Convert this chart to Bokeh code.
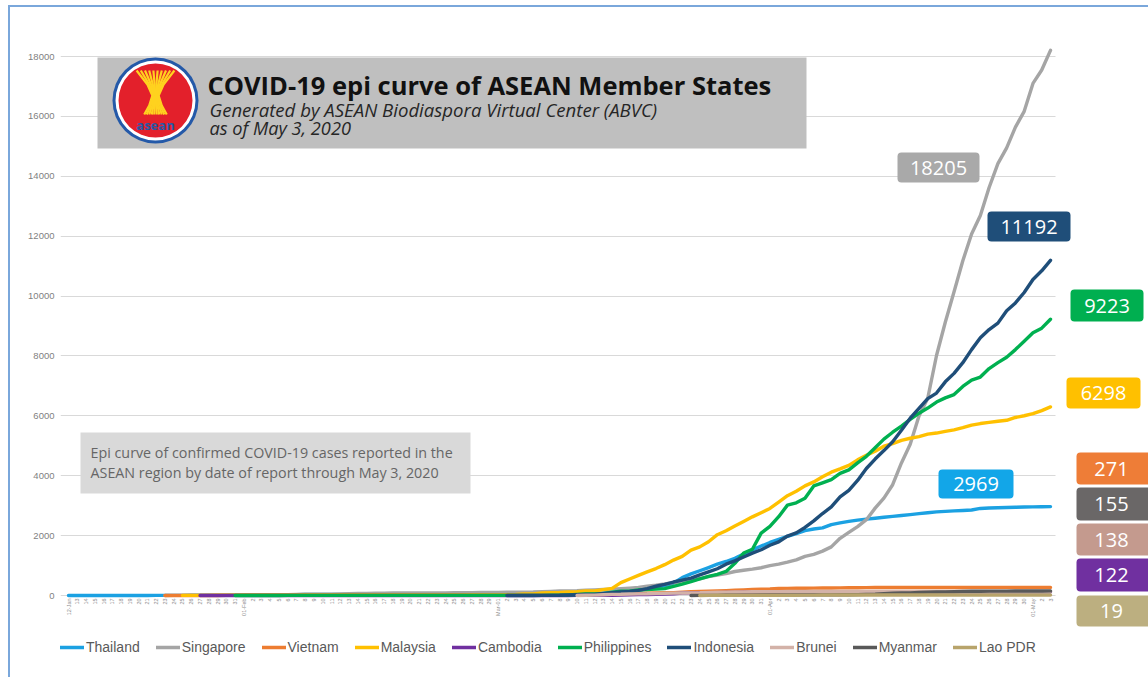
import math
import pandas as pd
from bokeh.plotting import figure
from bokeh.models import Range1d, FixedTicker, Label, BoxAnnotation, Legend, LegendItem
from bokeh.core.properties import value
from bokeh.embed import file_html
from bokeh.resources import INLINE

# ---------------- data ----------------
start_date = "2020-01-12"
end_date = "2020-05-03"
month_tick_labels = {"2020-01-12": "12-Jan", "2020-02-01": "01-Feb", "2020-03-01": "Mar-01",
                     "2020-04-01": "01-Apr", "2020-05-01": "01-May"}
y_ticks = [0, 2000, 4000, 6000, 8000, 10000, 12000, 14000, 16000, 18000]

countries = ["Thailand", "Singapore", "Vietnam", "Malaysia", "Cambodia",
             "Philippines", "Indonesia", "Brunei", "Myanmar", "Lao PDR"]
colors = ["#1BA1E2", "#A5A5A5", "#ED7D31", "#FFC000", "#7030A0",
          "#00B050", "#1F4E79", "#D3B2A8", "#595959", "#B8A46B"]
box_colors = ["#12A6E8", "#A9A9A9", "#EE7D37", "#FFC000", "#7030A0",
              "#00AF50", "#1F4E79", "#C49A8E", "#6A6767", "#BCAF80"]

# cumulative confirmed cases, each series runs from its first report date up to 3 May 2020
thailand = [1, 1, 1, 1, 1, 2, 2, 2, 2, 2, 4, 4, 5, 5, 8, 8, 14, 14, 14, 19,
            19, 19, 19, 25, 25, 25, 25, 32, 32, 32, 33, 33, 33, 33, 34, 34, 35, 35, 35, 35, 35, 35, 35, 37, 37, 40, 40, 41, 42,
            42, 43, 43, 43, 47, 48, 50, 50, 50, 53, 59, 70, 75, 82, 114, 147, 177, 212, 272, 322, 411, 599, 721, 827, 934, 1045, 1136, 1245, 1388, 1524, 1651,
            1771, 1875, 1978, 2067, 2169, 2220, 2258, 2369, 2423, 2473, 2518, 2551, 2579, 2613, 2643, 2672, 2700, 2733, 2765, 2792, 2811, 2826, 2839, 2854, 2907, 2922, 2931, 2938, 2947, 2954,
            2960, 2966, 2969]
singapore = [1, 3, 3, 4, 5, 7, 10, 13, 16,
             18, 18, 18, 24, 28, 30, 33, 40, 43, 45, 47, 50, 58, 67, 72, 75, 77, 81, 84, 84, 85, 86, 89, 89, 91, 93, 96, 98, 102,
             106, 108, 110, 112, 117, 130, 138, 150, 150, 160, 178, 187, 200, 212, 226, 243, 266, 313, 345, 385, 432, 455, 509, 558, 631, 683, 732, 802, 844, 879, 926,
             1000, 1049, 1114, 1189, 1309, 1375, 1481, 1623, 1910, 2108, 2299, 2532, 2918, 3252, 3699, 4427, 5050, 5992, 6588, 8014, 9125, 10141, 11178, 12075, 12693, 13624, 14423, 14951, 15641, 16169,
             17101, 17548, 18205]
vietnam = [2, 2, 2, 2, 2, 2, 2, 5, 5,
           6, 8, 8, 9, 10, 12, 13, 13, 13, 14, 15, 15, 16, 16, 16, 16, 16, 16, 16, 16, 16, 16, 16, 16, 16, 16, 16, 16, 16,
           16, 16, 16, 16, 16, 17, 18, 21, 30, 31, 38, 39, 47, 53, 56, 61, 66, 75, 85, 91, 94, 113, 123, 134, 141, 153, 163, 174, 188, 203, 212,
           218, 233, 237, 240, 241, 245, 249, 251, 255, 257, 258, 262, 265, 265, 267, 268, 268, 268, 268, 268, 268, 268, 268, 270, 270, 270, 270, 270, 270, 270,
           270, 271, 271]
malaysia = [3, 4, 4, 4, 7, 8, 8,
            8, 8, 8, 10, 12, 12, 14, 16, 16, 18, 18, 18, 19, 19, 22, 22, 22, 22, 22, 22, 22, 22, 22, 22, 22, 22, 23, 25, 25,
            29, 29, 36, 50, 50, 83, 93, 99, 117, 129, 149, 149, 197, 238, 428, 553, 673, 790, 900, 1030, 1183, 1306, 1518, 1624, 1796, 2031, 2161, 2320, 2470, 2626, 2766,
            2908, 3116, 3333, 3483, 3662, 3793, 3963, 4119, 4228, 4346, 4530, 4683, 4817, 4987, 5072, 5182, 5251, 5305, 5389, 5425, 5482, 5532, 5603, 5691, 5742, 5780, 5820, 5851, 5945, 6002,
            6071, 6176, 6298]
cambodia = [1, 1, 1, 1, 1,
            1, 1, 1, 1, 1, 1, 1, 1, 1, 1, 1, 1, 1, 1, 1, 1, 1, 1, 1, 1, 1, 1, 1, 1, 1, 1, 1, 1, 1,
            1, 1, 1, 1, 1, 1, 2, 2, 2, 3, 3, 5, 5, 7, 12, 24, 33, 35, 37, 51, 53, 84, 87, 91, 96, 96, 99, 103, 107, 107, 109,
            109, 110, 114, 114, 114, 115, 117, 117, 117, 119, 120, 122, 122, 122, 122, 122, 122, 122, 122, 122, 122, 122, 122, 122, 122, 122, 122, 122, 122, 122,
            122, 122, 122]
philippines = [1, 1,
               1, 2, 2, 2, 3, 3, 3, 3, 3, 3, 3, 3, 3, 3, 3, 3, 3, 3, 3, 3, 3, 3, 3, 3, 3, 3, 3, 3,
               3, 3, 3, 3, 3, 5, 6, 10, 20, 33, 49, 52, 64, 111, 140, 142, 187, 202, 217, 230, 307, 380, 462, 552, 636, 707, 803, 1075, 1418, 1546, 2084,
               2311, 2633, 3018, 3094, 3246, 3660, 3764, 3870, 4076, 4195, 4428, 4648, 4932, 5223, 5453, 5660, 5878, 6087, 6259, 6459, 6599, 6710, 6981, 7192, 7294, 7579, 7777, 7958, 8212, 8488,
               8772, 8928, 9223]
indonesia = [2, 2, 2, 2, 4, 4, 6, 19, 27, 34, 34, 69, 96, 117, 134, 172, 227, 309, 369, 450, 514, 579, 686, 790, 893, 1046, 1155, 1285, 1414, 1528,
             1677, 1790, 1986, 2092, 2273, 2491, 2738, 2956, 3293, 3512, 3842, 4241, 4557, 4839, 5136, 5516, 5923, 6248, 6575, 6760, 7135, 7418, 7775, 8211, 8607, 8882, 9096, 9511, 9771, 10118,
             10551, 10843, 11192]
brunei = [1, 6, 11, 25, 37, 40, 50, 54, 56, 68, 75, 78, 83, 88, 91, 104, 109, 114, 115, 120, 126, 127, 129,
          131, 133, 134, 135, 135, 135, 135, 135, 135, 135, 136, 136, 136, 136, 136, 136, 136, 137, 138, 138, 138, 138, 138, 138, 138, 138, 138, 138, 138,
          138, 138, 138]
myanmar = [2, 3, 3, 5, 8, 8, 10, 14, 15,
           15, 20, 20, 21, 21, 22, 22, 22, 23, 27, 28, 39, 41, 62, 74, 85, 88, 98, 111, 119, 121, 127, 139, 144, 144, 146, 146, 146, 150, 151,
           151, 151, 155]
lao = [2, 3, 6, 6, 8, 8, 9, 9,
       10, 10, 10, 10, 11, 12, 15, 15, 16, 16, 16, 19, 19, 19, 19, 19, 19, 19, 19, 19, 19, 19, 19, 19, 19, 19, 19, 19, 19, 19,
       19, 19, 19]
series = [thailand, singapore, vietnam, malaysia, cambodia, philippines, indonesia, brunei, myanmar, lao]

# ---------------- layout (page pixels) ----------------
PAGE_X0, PAGE_Y0 = 10, 7          # canvas origin on the page (css margin + 2px border)
FIG_W, FIG_H = 1138, 670
frame_left, frame_top = 60, 41
B_LEFT = frame_left - PAGE_X0
B_TOP = frame_top - PAGE_Y0
frame_w = FIG_W - B_LEFT
frame_h = FIG_H - B_TOP
frame_bottom = frame_top + frame_h
day0_px, dayN_px = 68, 1050
zero_py, top_py = 595, 56
grid_right_px = 1055
tick_label_top_py = 598
legend_bottom_py = 657

dates = pd.date_range(start_date, end_date)
n = len(dates)
px_per_day = (dayN_px - day0_px) / (n - 1)
px_per_unit = (zero_py - top_py) / y_ticks[-1]
x_start = -(day0_px - frame_left) / px_per_day
x_end = x_start + frame_w / px_per_day
y_start = -(frame_bottom - zero_py) / px_per_unit
y_end = y_start + frame_h / px_per_unit


def dx(px):
    return (px - day0_px) / px_per_day


def dy(py):
    return (zero_py - py) / px_per_unit


p = figure(frame_width=frame_w, frame_height=frame_h,
           x_range=Range1d(x_start, x_end), y_range=Range1d(y_start, y_end),
           x_axis_location=None, output_backend="svg", toolbar_location=None,
           min_border_left=B_LEFT, min_border_right=0, min_border_top=B_TOP, min_border_bottom=0,
           background_fill_color="white", border_fill_color="white", outline_line_color=None,
           styles={"margin-left": "8px", "margin-top": "5px",
                   "border-left": "2px solid #7AA7DB", "border-top": "2px solid #7AA7DB"})

p.xgrid.visible = False
p.ygrid.grid_line_color = "#D9D9D9"
p.ygrid.grid_line_width = 1
if "cross_bounds" in p.ygrid[0].properties():
    p.ygrid.cross_bounds = (x_start, dx(grid_right_px))

p.yaxis.ticker = FixedTicker(ticks=y_ticks)
p.yaxis.axis_line_color = None
p.yaxis.major_tick_line_color = None
p.yaxis.minor_tick_line_color = None
p.yaxis.major_tick_out = 0
p.yaxis.major_label_text_font = "Liberation Sans"
p.yaxis.major_label_text_font_size = "9.5px"
p.yaxis.major_label_text_color = "#7F7F7F"
p.yaxis.major_label_standoff = 6

# daily date labels under the zero line (placed on the x scale)
tick_x = list(range(n))
tick_text = [month_tick_labels.get(d.strftime("%Y-%m-%d"), str(d.day)) for d in dates]
p.text(x=tick_x, y=[dy(tick_label_top_py)] * n, text=tick_text, angle=math.pi / 2,
       text_align="right", text_baseline="middle", text_font=value("Liberation Sans"),
       text_font_size="5.5px", text_color="#8C8C8C")

# info boxes (behind the lines)
p.add_layout(BoxAnnotation(left=dx(97), right=dx(806), top=dy(57), bottom=dy(148),
                           fill_color="#BFBFBF", fill_alpha=1, line_color=None, level="underlay"))
p.add_layout(BoxAnnotation(left=dx(80), right=dx(470), top=dy(432), bottom=dy(493),
                           fill_color="#D9D9D9", fill_alpha=1, line_color=None, level="underlay"))

# lines
renderers = []
for name, col, vals in zip(countries, colors, series):
    xs = list(range(n - len(vals), n))
    renderers.append(p.line(xs, vals, line_color=col, line_width=3.4, line_join="round", line_cap="round"))

# logo
cx, cy = 155, 100
p.scatter([dx(cx)], [dy(cy)], size=86, fill_color="#2459A8", line_color=None)
p.scatter([dx(cx)], [dy(cy)], size=80, fill_color="white", line_color=None)
p.scatter([dx(cx)], [dy(cy)], size=74, fill_color="#E3202B", line_color=None)
stalk_xs, stalk_ys = [], []
for k in range(10):
    u = k - 4.5
    pts = [(u * 4.2, -30), (u * 1.8, -16), (u * 0.7, -5), (u * 1.4, 5), (u * 2.5, 14)]
    stalk_xs.append([dx(cx + a) for a, b in pts])
    stalk_ys.append([dy(cy + b) for a, b in pts])
p.multi_line(stalk_xs, stalk_ys, line_color="#FFD21F", line_width=2.2)
p.add_layout(Label(x=dx(cx), y=dy(cy + 24), text="asean", text_align="center", text_baseline="middle",
                   text_font="Open Sans", text_font_style="bold", text_font_size="13px", text_color="#2459A8"))

# title texts
p.add_layout(Label(x=dx(207), y=dy(84), text="COVID-19 epi curve of ASEAN Member States",
                   text_align="left", text_baseline="middle", text_font="Open Sans",
                   text_font_style="bold", text_font_size="25.5px", text_color="#111111"))
p.add_layout(Label(x=dx(209), y=dy(109), text="Generated by ASEAN Biodiaspora Virtual Center (ABVC)",
                   text_align="left", text_baseline="middle", text_font="Open Sans",
                   text_font_style="italic", text_font_size="18.6px", text_color="#262626"))
p.add_layout(Label(x=dx(209), y=dy(127), text="as of May 3, 2020",
                   text_align="left", text_baseline="middle", text_font="Open Sans",
                   text_font_style="italic", text_font_size="18.2px", text_color="#262626"))
p.add_layout(Label(x=dx(90), y=dy(452), text="Epi curve of confirmed COVID-19 cases reported in the",
                   text_align="left", text_baseline="middle", text_font="Open Sans",
                   text_font_size="14.3px", text_color="#666666"))
p.add_layout(Label(x=dx(90), y=dy(472), text="ASEAN region by date of report  through May 3, 2020",
                   text_align="left", text_baseline="middle", text_font="Open Sans",
                   text_font_size="14.3px", text_color="#666666"))

# end-value boxes: (left, right, top, bottom) in page px
value_boxes = {
    "Singapore": (897, 979, 152, 182),
    "Indonesia": (987, 1070, 211, 241),
    "Philippines": (1070, 1143, 289, 321),
    "Malaysia": (1066, 1140, 377, 408),
    "Thailand": (938, 1013, 469, 498),
    "Vietnam": (1076, 1152, 452, 484),
    "Myanmar": (1076, 1152, 487, 520),
    "Brunei": (1076, 1152, 523, 555),
    "Cambodia": (1076, 1152, 558, 591),
    "Lao PDR": (1076, 1152, 595, 626),
}
for name, bcol, vals in zip(countries, box_colors, series):
    l, r, t, b = value_boxes[name]
    p.add_layout(BoxAnnotation(left=dx(l), right=dx(r), top=dy(t), bottom=dy(b),
                               fill_color=bcol, fill_alpha=1, line_color=None, border_radius=4))
    tx = (l + r) / 2 if r < 1145 else 1111
    p.add_layout(Label(x=dx(tx), y=dy((t + b) / 2), text=str(vals[-1]), text_align="center",
                       text_baseline="middle", text_font="Open Sans", text_font_size="20px",
                       text_color="white"))

# legend
items = [LegendItem(label=name, renderers=[r]) for name, r in zip(countries, renderers)]
legend = Legend(items=items, orientation="horizontal", location=(0, frame_bottom - legend_bottom_py),
                border_line_color=None, background_fill_alpha=0, label_text_font_size="14px",
                label_text_font="Liberation Sans", label_text_color="#595959",
                glyph_width=24, glyph_height=20, label_height=20, label_standoff=2, spacing=16,
                padding=0, margin=0)
p.add_layout(legend)

open("out.html", "w").write(file_html(p, INLINE))
